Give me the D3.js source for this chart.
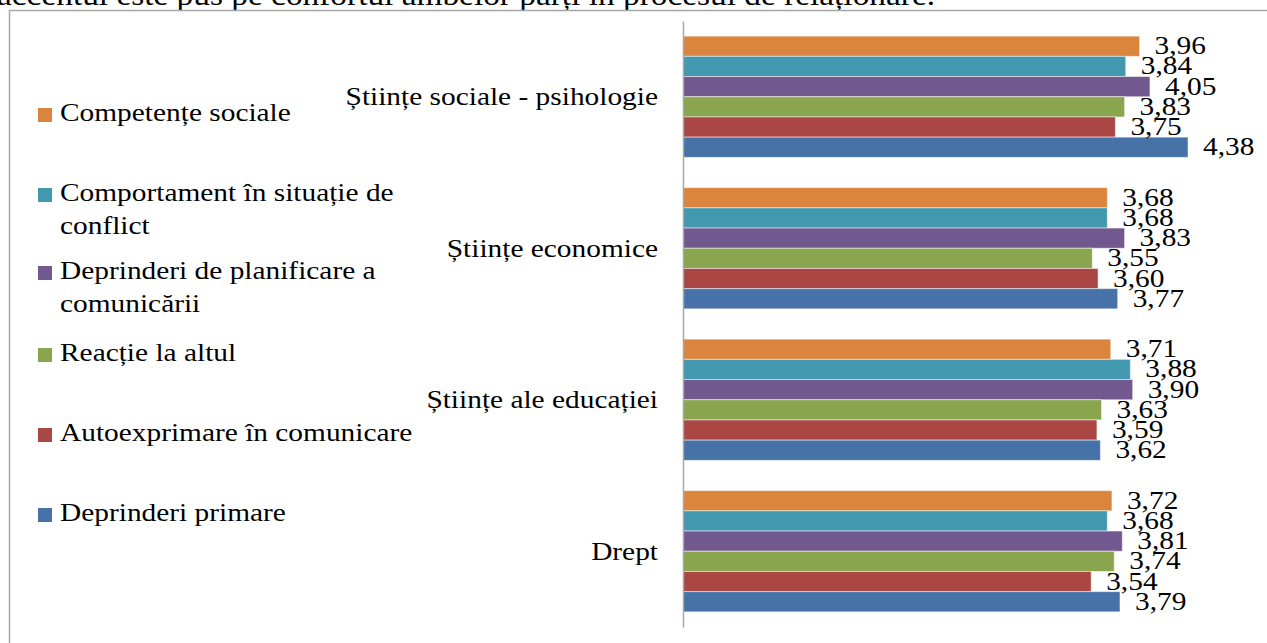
<!DOCTYPE html>
<html>
<head>
<meta charset="utf-8">
<script src="https://cdn.jsdelivr.net/npm/d3@7"></script>
<style>
  html, body { margin: 0; padding: 0; background: #fff; overflow: hidden; }
  svg { display: block; }
</style>
</head>
<body>
<svg id="chart" width="1267" height="643"></svg>
<script>
const categories = ["Științe sociale - psihologie", "Științe economice", "Științe ale educației", "Drept"];
const seriesNames = [
  "Competențe sociale",
  "Comportament în situație de conflict",
  "Deprinderi de planificare a comunicării",
  "Reacție la altul",
  "Autoexprimare în comunicare",
  "Deprinderi primare"
];
const legendLines = [
  ["Competențe sociale"],
  ["Comportament în situație de", "conflict"],
  ["Deprinderi de planificare a", "comunicării"],
  ["Reacție la altul"],
  ["Autoexprimare în comunicare"],
  ["Deprinderi primare"]
];
const seriesColors = ["#DB843D", "#4198AF", "#71588F", "#89A54E", "#AA4644", "#4672A8"];
// values per series, in category order
const competenteSociale   = [3.96, 3.68, 3.71, 3.72];
const comportamentConflict = [3.84, 3.68, 3.88, 3.68];
const deprinderiPlanificare = [4.05, 3.83, 3.90, 3.81];
const reactieAltul        = [3.83, 3.55, 3.63, 3.74];
const autoexprimare       = [3.75, 3.60, 3.59, 3.54];
const deprinderiPrimare   = [4.38, 3.77, 3.62, 3.79];
const seriesValues = [competenteSociale, comportamentConflict, deprinderiPlanificare, reactieAltul, autoexprimare, deprinderiPrimare];
const headerText = "accentul este pus pe confortul ambelor părți în procesul de relaționare.";

const FF = "'Liberation Serif', 'Times New Roman', 'DejaVu Serif', serif";
const FS = 26;
const SX = 1.13; // horizontal stretch of the source picture
const svg = d3.select("#chart").attr("font-family", FF);

// header text (cut off at top)
svg.append("text")
  .attr("transform", "translate(-3,5) scale(1.15,1)")
  .attr("font-family", FF).attr("font-size", 29).text(headerText);

// frame
svg.append("path")
  .attr("d", "M9.5,643 L9.5,10.5 L1267,10.5")
  .attr("fill", "none").attr("stroke", "#a6a6a6").attr("stroke-width", 1.5);

const x = d3.scaleLinear().domain([0, 5]).range([683, 683 + 576.5]);
const y0 = d3.scaleBand().domain(categories).range([21, 627]).paddingInner(0.2).paddingOuter(0.1);
const y1 = d3.scaleBand().domain(d3.range(seriesNames.length)).range([0, y0.bandwidth()]);

const groups = svg.append("g").selectAll("g").data(categories).join("g")
  .attr("transform", c => `translate(0,${y0(c)})`);

groups.each(function(c, ci) {
  const g = d3.select(this);
  const rows = seriesNames.map((s, si) => ({si, v: seriesValues[si][ci]}));
  g.selectAll("rect").data(rows).join("rect")
    .attr("x", x(0))
    .attr("y", d => y1(d.si))
    .attr("width", d => x(d.v) - x(0))
    .attr("height", y1.bandwidth())
    .attr("fill", d => seriesColors[d.si])
    .attr("stroke", "#ffffff").attr("stroke-opacity", 0.5).attr("stroke-width", 1);
  g.selectAll("text.lbl").data(rows).join("text").attr("class", "lbl")
    .attr("transform", d => `translate(${x(d.v) + 15},${y1(d.si) + y1.bandwidth() / 2 + 2}) scale(${SX},1)`)
    .attr("dominant-baseline", "middle")
    .attr("font-family", FF)
    .attr("font-size", FS)
    .text(d => d.v.toFixed(2).replace(".", ","));
});

// axis
const yAxis = d3.axisLeft(y0).tickSize(0).tickPadding(25);
const ax = svg.append("g").attr("transform", `translate(${x(0)},0)`).call(yAxis)
  .attr("font-family", FF).attr("font-size", FS);
ax.select(".domain").attr("stroke", "#a6a6a6").attr("stroke-width", 1.5);
ax.selectAll(".tick text")
  .attr("x", -25 / SX)
  .attr("transform", `scale(${SX},1)`)
  .attr("font-size", FS).attr("font-family", FF).attr("fill", "#000");

// legend
const legendY = [115, 195, 273, 355, 435, 515];
const lg = svg.append("g").selectAll("g").data(legendLines).join("g")
  .attr("transform", (d, i) => `translate(0,${legendY[i]})`);
lg.append("rect").attr("x", 38).attr("y", -7).attr("width", 14).attr("height", 14)
  .attr("fill", (d, i) => seriesColors[i]);
lg.each(function(lines) {
  d3.select(this).selectAll("text").data(lines).join("text")
    .attr("transform", (d, k) => `translate(60,${k * 33}) scale(${SX},1)`)
    .attr("dominant-baseline", "middle")
    .attr("font-family", FF)
    .attr("font-size", FS).text(d => d);
});
</script>
</body>
</html>
